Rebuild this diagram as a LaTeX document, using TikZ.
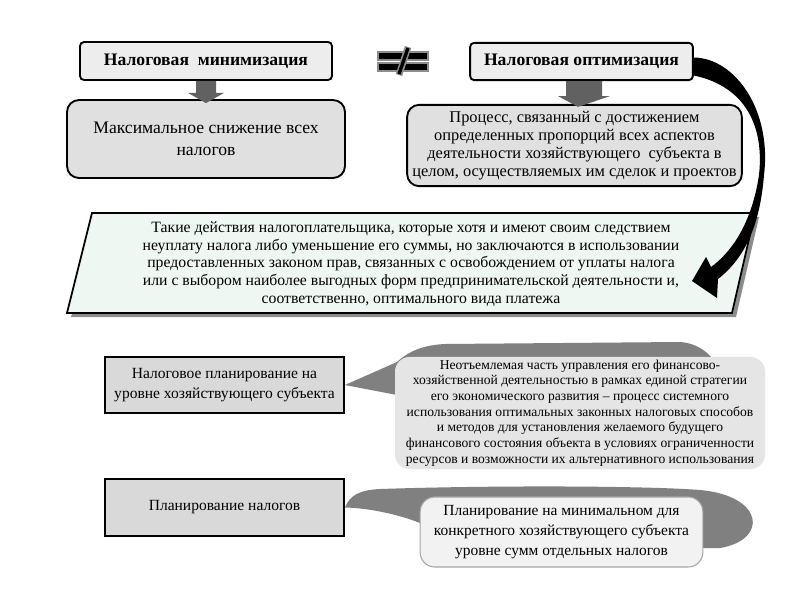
\documentclass[tikz,border=0pt]{standalone}
\usepackage{fontspec}
\setmainfont{Liberation Serif}
\usepackage{xcolor}
\usetikzlibrary{calc}
\definecolor{parfill}{RGB}{239,247,242}
\newcommand{\fs}[2]{\fontsize{#1}{#2}\selectfont}
\tikzset{
  title/.style={draw, line width=1.4pt, rounded corners=3pt, fill=black!7, font=\bfseries\fs{13.2}{15}, inner sep=2pt},
  resbox/.style={draw, line width=1.4pt, rounded corners=9pt, fill=black!12, align=center, inner sep=2pt},
  planbox/.style={draw, line width=1.6pt, fill=black!15, align=center, inner sep=2pt},
  callbox/.style={rounded corners=11pt, fill=black!10, align=center, inner sep=2pt},
  shade/.style={fill=black!50},
  blockarrow/.style={fill=black!62},
}
\begin{document}
\begin{tikzpicture}[x=0.75pt, y=-0.75pt]
  \useasboundingbox[fill=white] (0,0) rectangle (800,600);
  % top row
  \node[title, minimum width=189pt, minimum height=28.5pt] (mini) at (206,61) {Налоговая\ \ минимизация};
  \node[title, minimum width=167pt, minimum height=28pt] (opti) at (581.5,61.5) {Налоговая оптимизация};
  \node[resbox, minimum width=208.5pt, minimum height=58.5pt, font=\fs{13.2}{16.5}] (minres) at (206,139)
    {Максимальное снижение всех\\налогов};
  \node[resbox, minimum width=251pt, minimum height=61pt, font=\fs{12.3}{13.5}] (optres) at (574.5,145.5)
    {Процесс, связанный с достижением\\определенных пропорций всех аспектов\\деятельности хозяйствующего\ \ субъекта в\\целом, осуществляемых им сделок и проектов};
  % not equal sign
  \coordinate (neq) at (403,61);
  \foreach \dy in {-5.5,5.5}
    \draw[fill=black, draw=black!45, line width=1.5pt] ($(neq)+(-25,\dy-4)$) rectangle ($(neq)+(25,\dy+4)$);
  \draw[black!45, line width=5pt] ($(neq)+(-4,14)$) -- ($(neq)+(5,-14)$);
  \draw[black, line width=2.5pt] ($(neq)+(-4,13)$) -- ($(neq)+(5,-13)$);
  % gray block arrows
  \fill[blockarrow] ($(mini.south)+(-10,0)$) -- ++(0,12) -- ++(-8,0) -- ($(minres.north)+(0,4)$)
    -- ($(mini.south)+(18,12)$) -- ++(-8,0) -- ++(0,-12) -- cycle;
  \fill[blockarrow] ($(opti.south)+(-15.5,0)$) -- ++(0,15) -- ++(-8,0) -- ($(optres.north)+(3.5,3)$)
    -- ($(opti.south)+(28.5,15)$) -- ++(-8,0) -- ++(0,-15) -- cycle;
  % definition
  \coordinate (ptl) at (92,213);
  \coordinate (ptr) at (755,213);
  \coordinate (pbr) at (732,313);
  \coordinate (pbl) at (67,313);
  \fill[black!45] ($(ptl)+(4,4)$) -- ($(ptr)+(4,4)$) -- ($(pbr)+(4,4)$) -- ($(pbl)+(4,4)$) -- cycle;
  \draw[fill=parfill, line width=1.3pt] (ptl) -- (ptr) -- (pbr) -- (pbl) -- cycle;
  \node[align=center, font=\fs{11.8}{13.2}] (defn) at (411,264)
    {Такие действия налогоплательщика, которые хотя и имеют своим следствием\\
     неуплату налога либо уменьшение его суммы, но заключаются в использовании\\
     предоставленных законом прав, связанных с освобождением от уплаты налога\\
     или с выбором наиболее выгодных форм предпринимательской деятельности и,\\
     соответственно, оптимального вида платежа};
  % curved black arrow
  \fill[black] ($(opti.east)+(0,-4)$) .. controls (735,58) and (772,110) .. (764,175)
    .. controls (760,225) and (745,258) .. (718,279) -- (717,298) -- (692,281) -- (706,257)
    -- (711,267) .. controls (737,248) and (753,215) .. (759,175)
    .. controls (765,120) and (740,85) .. ($(opti.east)+(0,14)$) -- cycle;
  % planning boxes
  \node[planbox, minimum width=179pt, minimum height=42pt, font=\fs{11.65}{15.5}] (planent) at (224.5,385)
    {Налоговое планирование на\\уровне хозяйствующего субъекта};
  \node[planbox, minimum width=179pt, minimum height=43pt, font=\fs{11.65}{15.5}] (plantax) at (224.5,507.5)
    {Планирование налогов};
  % callouts
  \fill[shade] (planent.east) -- (397,362) .. controls (410,350) and (425,345) .. (445,344)
    -- (680,342) .. controls (695,343) and (705,350) .. (712,358) -- (712,380) -- (397,395) -- cycle;
  \node[callbox, minimum width=277.5pt, minimum height=84pt, font=\fs{10.2}{11.8}] (planentc) at (580,413)
    {Неотъемлемая часть управления его финансово-\\
     хозяйственной деятельностью в рамках единой стратегии\\
     его экономического развития -- процесс системного\\
     использования оптимальных законных налоговых способов\\
     и методов для установления желаемого будущего\\
     финансового состояния объекта в условиях ограниченности\\
     ресурсов и возможности их альтернативного использования};
  \fill[shade] (plantax.east) .. controls (350,495) and (360,490) .. (380,489)
    .. controls (500,485) and (650,486) .. (700,490) .. controls (765,496) and (768,540) .. (720,548)
    -- (700,548) -- (420,523) .. controls (400,515) and (370,508) .. (plantax.east) -- cycle;
  \node[callbox, draw=black!35, line width=0.8pt, fill=black!5, minimum width=212pt, minimum height=52.5pt,
    font=\fs{11.6}{15.3}] (plantaxc) at (561.5,532)
    {Планирование на минимальном для\\конкретного хозяйствующего субъекта\\уровне сумм отдельных налогов};
\end{tikzpicture}
\end{document}
